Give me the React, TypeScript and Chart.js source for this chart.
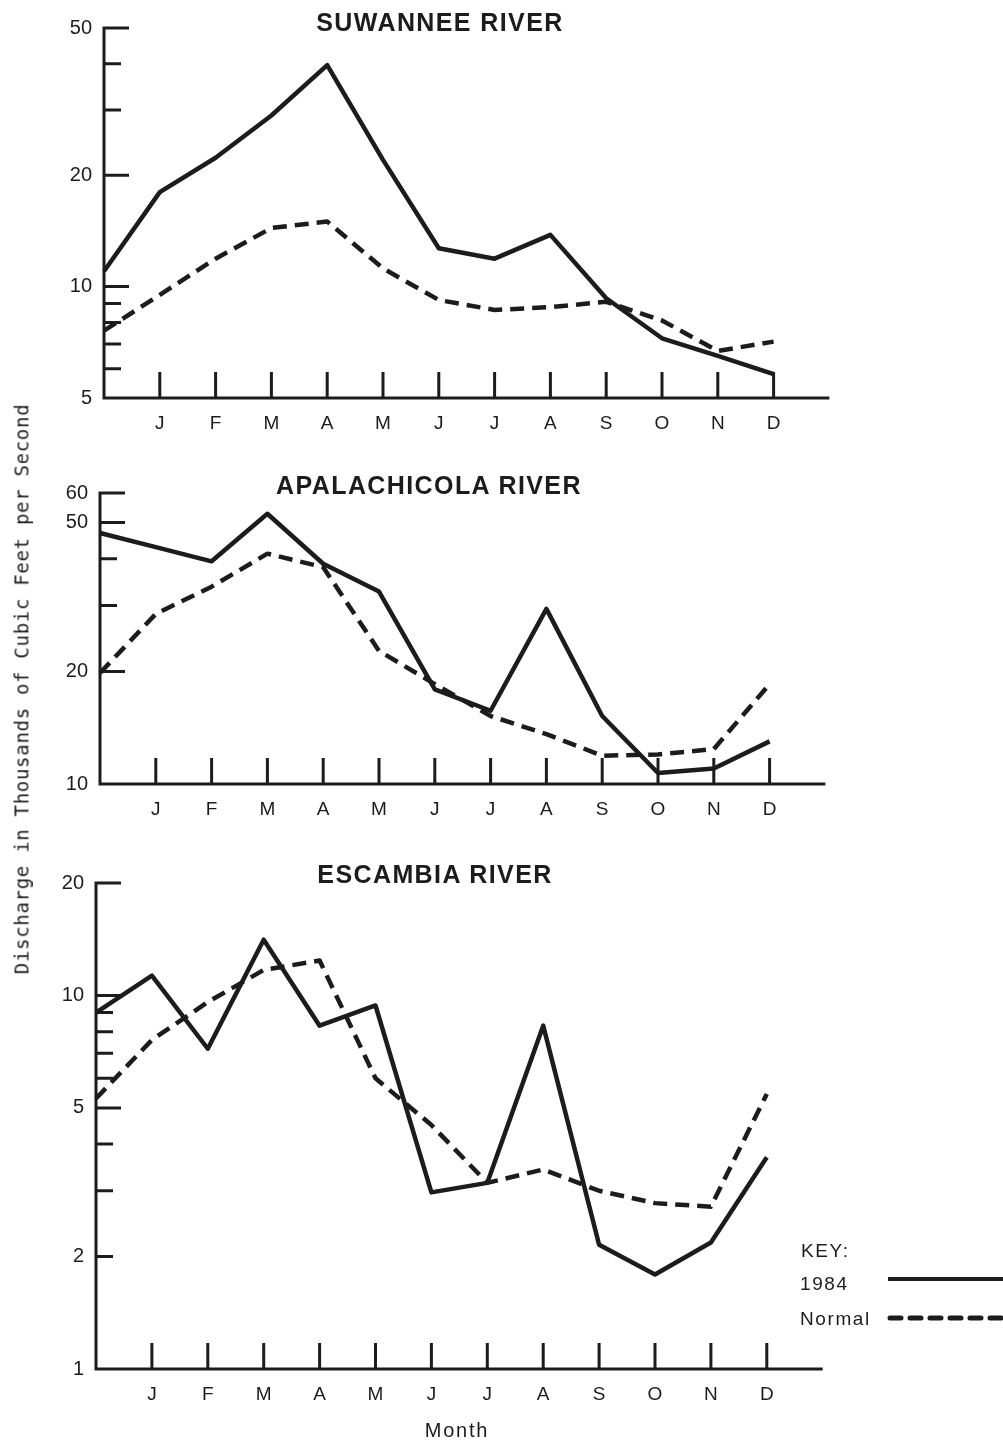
import React, { useEffect, useRef } from 'react';
import { Chart, registerables } from 'chart.js';

Chart.register(...registerables);

// ---------- data ----------
const MONTH_LABELS = ['', 'J', 'F', 'M', 'A', 'M', 'J', 'J', 'A', 'S', 'O', 'N', 'D', ''];

const SUWANNEE_1984 = [11.0, 18.0, 22.3, 29.0, 39.7, 22.0, 12.7, 11.9, 13.8, 9.3, 7.25, 6.5, 5.8];
const SUWANNEE_NORMAL = [7.6, 9.5, 11.9, 14.4, 15.0, 11.2, 9.2, 8.65, 8.8, 9.1, 8.1, 6.7, 7.1];

const APALACHICOLA_1984 = [46.9, 43.0, 39.4, 52.8, 38.8, 32.7, 17.9, 15.7, 29.4, 15.2, 10.7, 11.0, 13.0];
const APALACHICOLA_NORMAL = [19.8, 28.5, 33.7, 41.3, 38.0, 22.7, 18.5, 15.2, 13.6, 11.9, 12.0, 12.4, 18.5];

const ESCAMBIA_1984 = [9.0, 11.3, 7.2, 14.1, 8.3, 9.4, 2.97, 3.15, 8.3, 2.15, 1.79, 2.18, 3.69];
const ESCAMBIA_NORMAL = [5.3, 7.6, 9.6, 11.7, 12.4, 6.0, 4.5, 3.15, 3.42, 3.0, 2.78, 2.72, 5.45];

const SUWANNEE_TICKS = [5, 6, 7, 8, 9, 10, 20, 30, 40, 50];
const SUWANNEE_TICK_LABELS = [5, 10, 20, 50];
const SUWANNEE_LONG_TICKS = [10, 20, 50];

const APALACHICOLA_TICKS = [10, 20, 30, 40, 50, 60];
const APALACHICOLA_TICK_LABELS = [10, 20, 50, 60];
const APALACHICOLA_LONG_TICKS = [20, 50, 60];

const ESCAMBIA_TICKS = [1, 2, 3, 4, 5, 6, 7, 8, 9, 10, 20];
const ESCAMBIA_TICK_LABELS = [1, 2, 5, 10, 20];
const ESCAMBIA_LONG_TICKS = [5, 10, 20];

// ---------- style ----------
const INK = '#1c1c1c';
const SANS = "'Liberation Sans', Arial, Helvetica, sans-serif";
const PAGE_W = 1003;

type PanelProps = {
  top: number;
  height: number;
  yMin: number;
  yMax: number;
  topPx: number;
  bottomPx: number;
  axisX: number;
  step: number;
  ticks: number[];
  tickLabels: number[];
  longTicks: number[];
  solid: number[];
  normal: number[];
};

function Panel(p: PanelProps) {
  const ref = useRef<HTMLCanvasElement | null>(null);

  useEffect(() => {
    const canvas = ref.current;
    if (!canvas) return;
    const rightEdge = p.axisX + 13 * p.step;

    const handAxes = {
      id: 'handAxes',
      beforeDatasetsDraw(chart: any) {
        const { ctx, chartArea, scales } = chart;
        const xs = scales.x;
        const ys = scales.y;
        const left = chartArea.left;
        const bottom = ys.getPixelForValue(p.yMin);
        const top = ys.getPixelForValue(p.yMax);
        ctx.save();
        ctx.strokeStyle = INK;
        ctx.lineWidth = 3;
        ctx.lineCap = 'butt';
        ctx.beginPath();
        ctx.moveTo(left, top - 1.5);
        ctx.lineTo(left, bottom + 1.5);
        ctx.moveTo(left - 1.5, bottom);
        ctx.lineTo(xs.getPixelForValue(13), bottom);
        p.ticks.forEach((v) => {
          if (v === p.yMin) return;
          const py = ys.getPixelForValue(v);
          const len = p.longTicks.includes(v) ? 25 : 17;
          ctx.moveTo(left, py);
          ctx.lineTo(left + len, py);
        });
        for (let i = 1; i <= 12; i++) {
          const px = xs.getPixelForValue(i);
          ctx.moveTo(px, bottom);
          ctx.lineTo(px, bottom - 26);
        }
        ctx.stroke();
        ctx.restore();
      },
    };

    const chart = new Chart(canvas, {
      type: 'line',
      data: {
        labels: MONTH_LABELS,
        datasets: [
          {
            label: '1984',
            data: p.solid,
            borderColor: INK,
            borderWidth: 4.5,
            pointRadius: 0,
            tension: 0,
            fill: false,
            borderJoinStyle: 'round',
          },
          {
            label: 'Normal',
            data: p.normal,
            borderColor: INK,
            borderWidth: 4.5,
            borderDash: [14, 8],
            pointRadius: 0,
            tension: 0,
            fill: false,
            borderJoinStyle: 'round',
          },
        ],
      },
      options: {
        responsive: false,
        animation: false,
        devicePixelRatio: 1,
        layout: {
          autoPadding: false,
          padding: { left: 0, right: PAGE_W - rightEdge, top: p.topPx - p.top, bottom: 0 },
        },
        plugins: {
          legend: { display: false },
          tooltip: { enabled: false },
          title: { display: false },
        },
        scales: {
          x: {
            type: 'category',
            offset: false,
            grid: { display: false, drawTicks: false },
            border: { display: false },
            ticks: {
              autoSkip: false,
              maxRotation: 0,
              minRotation: 0,
              padding: 14,
              color: INK,
              font: { family: SANS, size: 19 },
            },
            afterFit: (s: any) => {
              s.height = p.top + p.height - p.bottomPx;
            },
          },
          y: {
            type: 'logarithmic',
            min: p.yMin,
            max: p.yMax,
            grid: { display: false, drawTicks: false },
            border: { display: false },
            afterBuildTicks: (s: any) => {
              s.ticks = p.ticks.map((v) => ({ value: v }));
            },
            ticks: {
              autoSkip: false,
              padding: 12,
              color: INK,
              font: { family: SANS, size: 20 },
              callback: (v: any) => (p.tickLabels.includes(Number(v)) ? String(v) : ''),
            },
            afterFit: (s: any) => {
              s.width = p.axisX;
            },
          },
        },
      },
      plugins: [handAxes],
    } as any);

    return () => chart.destroy();
  }, []);

  return (
    <canvas
      ref={ref}
      width={PAGE_W}
      height={p.height}
      style={{ position: 'absolute', left: 0, top: p.top, width: PAGE_W, height: p.height }}
    />
  );
}

const titleStyle = (cx: number, cy: number): React.CSSProperties => ({
  position: 'absolute',
  left: cx,
  top: cy,
  transform: 'translate(-50%, -50%)',
  fontFamily: SANS,
  fontWeight: 'bold',
  fontSize: 25,
  letterSpacing: '1.4px',
  lineHeight: 1,
  whiteSpace: 'nowrap',
  color: INK,
});

const keyText = (x: number, cy: number): React.CSSProperties => ({
  position: 'absolute',
  left: x,
  top: cy,
  transform: 'translateY(-50%)',
  fontFamily: SANS,
  fontSize: 19,
  letterSpacing: '1.6px',
  lineHeight: 1,
  whiteSpace: 'nowrap',
  color: INK,
});

export default function App() {
  return (
    <div
      style={{
        position: 'absolute',
        left: 0,
        top: 0,
        width: PAGE_W,
        height: 1442,
        overflow: 'hidden',
        background: '#fff',
      }}
    >
      <Panel
        top={0}
        height={445}
        yMin={5}
        yMax={50}
        topPx={28}
        bottomPx={398}
        axisX={104}
        step={55.8}
        ticks={SUWANNEE_TICKS}
        tickLabels={SUWANNEE_TICK_LABELS}
        longTicks={SUWANNEE_LONG_TICKS}
        solid={SUWANNEE_1984}
        normal={SUWANNEE_NORMAL}
      />
      <Panel
        top={445}
        height={395}
        yMin={10}
        yMax={60}
        topPx={493}
        bottomPx={784}
        axisX={100}
        step={55.8}
        ticks={APALACHICOLA_TICKS}
        tickLabels={APALACHICOLA_TICK_LABELS}
        longTicks={APALACHICOLA_LONG_TICKS}
        solid={APALACHICOLA_1984}
        normal={APALACHICOLA_NORMAL}
      />
      <Panel
        top={840}
        height={602}
        yMin={1}
        yMax={20}
        topPx={883}
        bottomPx={1369}
        axisX={96}
        step={55.9}
        ticks={ESCAMBIA_TICKS}
        tickLabels={ESCAMBIA_TICK_LABELS}
        longTicks={ESCAMBIA_LONG_TICKS}
        solid={ESCAMBIA_1984}
        normal={ESCAMBIA_NORMAL}
      />

      <div style={titleStyle(440, 22)}>SUWANNEE RIVER</div>
      <div style={titleStyle(429, 485)}>APALACHICOLA RIVER</div>
      <div style={titleStyle(435, 874)}>ESCAMBIA RIVER</div>

      <div
        style={{
          position: 'absolute',
          left: 22,
          top: 689,
          transform: 'translate(-50%, -50%) rotate(-90deg)',
          fontFamily: "'DejaVu Sans Mono', monospace",
          fontSize: 19,
          letterSpacing: '0.7px',
          lineHeight: 1,
          whiteSpace: 'nowrap',
          color: INK,
        }}
      >
        Discharge in Thousands of Cubic Feet per Second
      </div>

      <div
        style={{
          position: 'absolute',
          left: 457,
          top: 1430,
          transform: 'translate(-50%, -50%)',
          fontFamily: SANS,
          fontSize: 20,
          letterSpacing: '1.8px',
          lineHeight: 1,
          whiteSpace: 'nowrap',
          color: INK,
        }}
      >
        Month
      </div>

      <div style={keyText(801, 1250)}>KEY:</div>
      <div style={keyText(800, 1283)}>1984</div>
      <div style={keyText(800, 1318)}>Normal</div>
      <svg style={{ position: 'absolute', left: 884, top: 1270, width: 119, height: 18 }}>
        <line x1={4} y1={9} x2={119} y2={9} stroke={INK} strokeWidth={4} />
      </svg>
      <svg style={{ position: 'absolute', left: 884, top: 1309, width: 119, height: 18 }}>
        <line
          x1={6}
          y1={9}
          x2={119}
          y2={9}
          stroke={INK}
          strokeWidth={5}
          strokeDasharray="11 9"
          strokeLinecap="round"
        />
      </svg>
    </div>
  );
}
